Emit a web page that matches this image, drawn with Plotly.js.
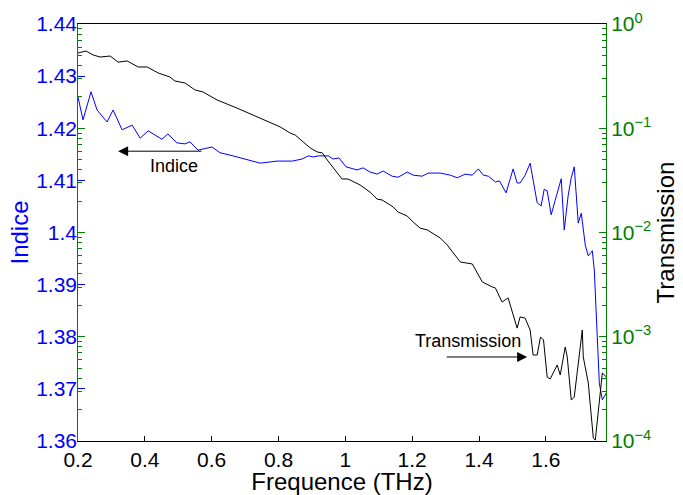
<!DOCTYPE html>
<html>
<head>
<meta charset="utf-8">
<script src="https://cdn.plot.ly/plotly-3.0.1.min.js"></script>
<style>html,body{margin:0;padding:0;background:#fff;}#chart{width:683px;height:495px;}</style>
</head>
<body>
<div id="chart"></div>
<script>
// Indice (left axis) series
var freqIndice = [0.200,0.215,0.239,0.257,0.287,0.305,0.332,0.362,0.386,0.410,0.451,0.469,0.496,0.520,0.535,0.559,0.601,0.625,0.664,0.715,0.745,0.796,0.841,0.871,0.889,0.904,0.919,0.949,0.963,0.981,1.002,1.035,1.053,1.074,1.095,1.113,1.140,1.158,1.185,1.203,1.230,1.248,1.284,1.314,1.335,1.359,1.380,1.398,1.413,1.428,1.449,1.461,1.481,1.502,1.514,1.523,1.538,1.553,1.562,1.574,1.586,1.595,1.604,1.616,1.628,1.646,1.655,1.667,1.676,1.685,1.697,1.706,1.718,1.727,1.739,1.745,1.760,1.769,1.781];
var indice = [1.4260,1.4216,1.4270,1.4235,1.4212,1.4235,1.4197,1.4206,1.4181,1.4195,1.4179,1.4189,1.4172,1.4170,1.4174,1.4158,1.4164,1.4153,1.4147,1.4139,1.4133,1.4137,1.4137,1.4141,1.4147,1.4145,1.4147,1.4147,1.4141,1.4143,1.4126,1.4120,1.4124,1.4116,1.4112,1.4118,1.4108,1.4106,1.4116,1.4110,1.4108,1.4114,1.4114,1.4110,1.4105,1.4112,1.4110,1.4122,1.4110,1.4108,1.4097,1.4099,1.4076,1.4122,1.4095,1.4095,1.4110,1.4133,1.4101,1.4057,1.4051,1.4083,1.4080,1.4034,1.4062,1.4103,1.4005,1.4072,1.4105,1.4126,1.4018,1.4037,1.3976,1.3955,1.3965,1.3928,1.3711,1.3679,1.3692];

// Transmission (right log axis) series
var freqTrans = [0.200,0.224,0.245,0.266,0.296,0.320,0.347,0.380,0.407,0.440,0.475,0.490,0.520,0.550,0.574,0.616,0.676,0.724,0.745,0.784,0.805,0.835,0.850,0.874,0.895,0.916,0.931,0.946,0.969,0.990,1.008,1.044,1.074,1.095,1.110,1.143,1.158,1.185,1.203,1.224,1.245,1.284,1.305,1.323,1.338,1.344,1.380,1.410,1.440,1.449,1.469,1.487,1.514,1.523,1.538,1.553,1.562,1.574,1.584,1.593,1.604,1.613,1.634,1.643,1.658,1.664,1.676,1.685,1.709,1.712,1.727,1.742,1.748,1.769,1.781];
var transmission = [0.527,0.551,0.505,0.482,0.493,0.431,0.442,0.387,0.387,0.339,0.310,0.284,0.272,0.233,0.223,0.187,0.156,0.134,0.125,0.112,0.103,0.0899,0.0861,0.0738,0.0647,0.0592,0.0580,0.0495,0.0398,0.0326,0.0326,0.0286,0.0244,0.0209,0.0205,0.0176,0.0157,0.0144,0.0126,0.0110,0.0106,0.00885,0.00758,0.00635,0.00544,0.00521,0.00499,0.00335,0.00300,0.00294,0.00215,0.00236,0.00121,0.00155,0.00151,0.00116,0.000668,0.000668,0.000995,0.000931,0.000411,0.000394,0.000536,0.000430,0.000798,0.000640,0.000247,0.000264,0.00116,0.000640,0.000360,0.000107,0.000102,0.000449,0.000411];

// Tick labels
var xTickVals = [0.2,0.4,0.6,0.8,1.0,1.2,1.4,1.6];
var xTickText = ['0.2','0.4','0.6','0.8','1','1.2','1.4','1.6'];
var yTickVals = [1.36,1.37,1.38,1.39,1.40,1.41,1.42,1.43,1.44];
var yTickText = ['1.36','1.37','1.38','1.39','1.4','1.41','1.42','1.43','1.44'];
var y2TickVals = [1e-4,1e-3,1e-2,1e-1,1];
var y2TickText = ['10<sup>\u22124</sup>','10<sup>\u22123</sup>','10<sup>\u22122</sup>','10<sup>\u22121</sup>','10<sup>0</sup>'];
var y2MinorVals = [];
[1e-4,1e-3,1e-2,1e-1].forEach(function(d){ for (var k=2;k<=9;k++) y2MinorVals.push(d*k); });

var FONT = 'Liberation Sans, Arial, sans-serif';
var GREEN = '#008000';
var BLUE = '#0000ff';

var traces = [
  {x: freqIndice, y: indice, type: 'scatter', mode: 'lines', line: {color: BLUE, width: 1}, yaxis: 'y', hoverinfo: 'skip'},
  {x: freqTrans, y: transmission, type: 'scatter', mode: 'lines', line: {color: '#000000', width: 1}, yaxis: 'y2', hoverinfo: 'skip'}
];

var layout = {
  width: 683, height: 495,
  margin: {l: 78, r: 77, t: 24, b: 54, pad: 0},
  paper_bgcolor: '#ffffff', plot_bgcolor: '#ffffff',
  showlegend: false,
  font: {family: FONT, color: '#000'},
  xaxis: {
    range: [0.2, 1.78], tickmode: 'array', tickvals: xTickVals, ticktext: xTickText,
    ticks: 'inside', ticklen: 5, tickcolor: '#000', tickwidth: 1,
    showline: true, linecolor: '#000', linewidth: 1, mirror: true,
    showgrid: false, zeroline: false,
    tickfont: {family: FONT, size: 21, color: '#000'},
    title: {text: 'Frequence (THz)', font: {family: FONT, size: 24, color: '#000'}, standoff: 0},
    automargin: false
  },
  yaxis: {
    range: [1.36, 1.44], tickmode: 'array', tickvals: yTickVals, ticktext: yTickText,
    ticks: 'inside', ticklen: 7, tickcolor: BLUE, tickwidth: 1,
    showline: false, showgrid: false, zeroline: false,
    tickfont: {family: FONT, size: 21, color: BLUE},
    title: {text: 'Indice', font: {family: FONT, size: 24, color: BLUE}, standoff: 0},
    automargin: false
  },
  yaxis2: {
    type: 'log', range: [-4, 0], overlaying: 'y', side: 'right',
    tickmode: 'array', tickvals: y2TickVals, ticktext: y2TickText,
    ticks: 'inside', ticklen: 7, tickcolor: GREEN, tickwidth: 1,
    minor: {tickmode: 'array', tickvals: y2MinorVals, ticks: 'inside', ticklen: 4, tickcolor: GREEN, tickwidth: 1, showgrid: false},
    showline: true, linecolor: GREEN, linewidth: 1, mirror: 'ticks',
    showgrid: false, zeroline: false,
    tickfont: {family: FONT, size: 21, color: GREEN},
    title: {text: 'Transmission', font: {family: FONT, size: 24, color: '#000'}, standoff: 6},
    automargin: false
  },
  annotations: [
    {xref: 'x', yref: 'y', x: 0.320, y: 1.4156, axref: 'x', ayref: 'y', ax: 0.574, ay: 1.4156,
     text: '', showarrow: true, arrowhead: 2, arrowsize: 2, arrowwidth: 1, arrowcolor: '#000', standoff: 0, startstandoff: 0},
    {xref: 'x', yref: 'y', x: 0.487, y: 1.4128, text: 'Indice', showarrow: false,
     font: {family: FONT, size: 18, color: '#000'}},
    {xref: 'x', yref: 'y2', x: 1.544, y: -3.194, axref: 'x', ayref: 'y2', ax: 1.299, ay: -3.194,
     text: '', showarrow: true, arrowhead: 2, arrowsize: 2, arrowwidth: 1, arrowcolor: '#000', standoff: 0, startstandoff: 0},
    {xref: 'x', yref: 'y2', x: 1.368, y: -3.041, text: 'Transmission', showarrow: false,
     font: {family: FONT, size: 18, color: '#000'}}
  ]
};

Plotly.newPlot('chart', traces, layout, {staticPlot: true, displayModeBar: false});
</script>
</body>
</html>
